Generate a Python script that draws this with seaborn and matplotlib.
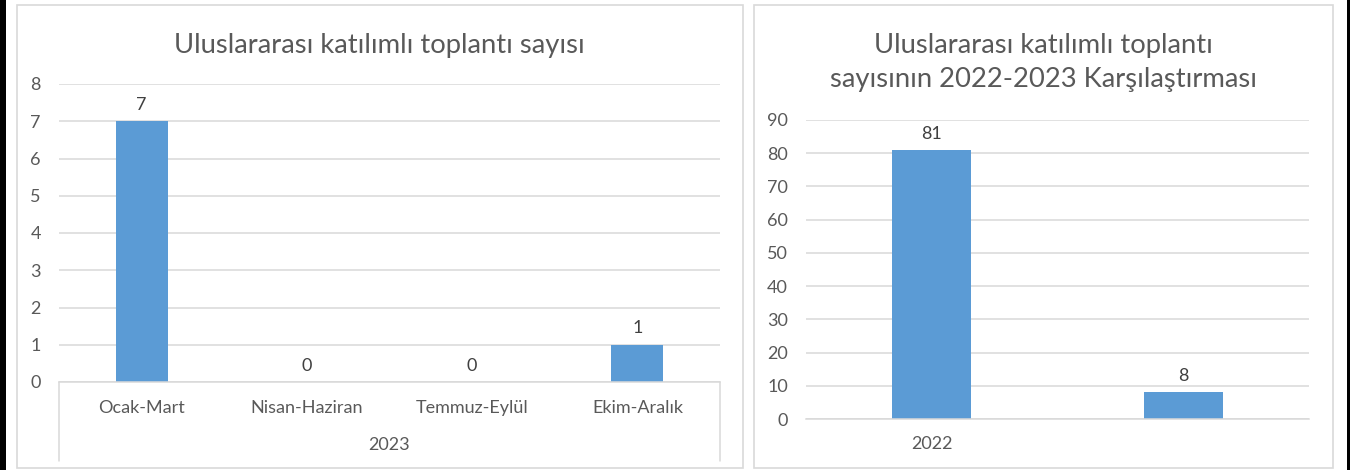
import matplotlib
matplotlib.use("Agg")
import matplotlib.pyplot as plt
import matplotlib.transforms as mtransforms
from matplotlib.patches import Rectangle
from matplotlib.lines import Line2D
import seaborn as sns
import pandas as pd

# ---- data ----
left_title = "Uluslararası katılımlı toplantı sayısı"
left_categories = ["Ocak-Mart", "Nisan-Haziran", "Temmuz-Eylül", "Ekim-Aralık"]
left_values = [7, 0, 0, 1]
left_group = "2023"
left_yticks = [0, 1, 2, 3, 4, 5, 6, 7, 8]

right_title = "Uluslararası katılımlı toplantı\nsayısının 2022-2023 Karşılaştırması"
right_categories = ["2022", ""]
right_values = [81, 8]
right_yticks = [0, 10, 20, 30, 40, 50, 60, 70, 80, 90]

BAR = "#5B9BD5"
GRID = "#D9D9D9"
TXT = "#595959"
LBL = "#404040"

sns.set_theme(style="white")
plt.rcParams["font.family"] = ["Lato", "DejaVu Sans"]

W, H = 1350, 470
fig = plt.figure(figsize=(W / 100, H / 100), dpi=100)
fig.patch.set_facecolor("white")

def fx(px):
    return px / W

def fy(py):
    return 1 - py / H

# black side strips
fig.add_artist(Rectangle((0, 0), fx(6), 1, transform=fig.transFigure,
                         facecolor="black", edgecolor="none"))
fig.add_artist(Rectangle((fx(1347), 0), 1 - fx(1347), 1, transform=fig.transFigure,
                         facecolor="black", edgecolor="none"))
# panel borders
for x0, x1 in [(17, 743), (754, 1333)]:
    fig.add_artist(Rectangle((fx(x0), fy(468)), fx(x1 - x0), (468 - 5) / H,
                             transform=fig.transFigure, facecolor="none",
                             edgecolor=GRID, linewidth=1.2))


def style_axes(ax, yticks):
    ax.set_ylim(yticks[0], yticks[-1])
    ax.set_yticks(yticks)
    ax.grid(axis="y", color=GRID, linewidth=1.1)
    ax.set_axisbelow(True)
    for s in ["left", "right", "top"]:
        ax.spines[s].set_visible(False)
    ax.spines["bottom"].set_color(GRID)
    ax.spines["bottom"].set_linewidth(1.1)
    ax.tick_params(axis="y", length=0, pad=13, labelsize=13, labelcolor=TXT)
    ax.tick_params(axis="x", length=0, labelsize=13, labelcolor=TXT)
    ax.set_xlabel("")
    ax.set_ylabel("")


# ---- left chart ----
axL = fig.add_axes([fx(59), fy(382), fx(720 - 59), (382 - 84) / H])
dfL = pd.DataFrame({"cat": left_categories, "val": left_values})
sns.barplot(data=dfL, x="cat", y="val", ax=axL, color=BAR, width=0.315,
            saturation=1, edgecolor="none")
axL.set_xlim(-0.5, len(left_categories) - 0.5)
style_axes(axL, left_yticks)
axL.tick_params(axis="x", pad=13)
for c in axL.containers:
    axL.bar_label(c, labels=[str(v) for v in left_values], padding=6,
                  fontsize=13, color=LBL)
# multi-level category axis lines
trL = mtransforms.blended_transform_factory(axL.transData, fig.transFigure)
for xe in [-0.5, len(left_categories) - 0.5]:
    fig.add_artist(Line2D([xe, xe], [fy(382), fy(461)], transform=trL,
                          color=GRID, linewidth=1.1))
axL.text((len(left_categories) - 1) / 2, fy(445), left_group, transform=trL,
         ha="center", va="center", fontsize=13, color=TXT)
fig.text(fx(379), fy(45), left_title, ha="center", va="center",
         fontsize=19.7, color=TXT)

# ---- right chart ----
axR = fig.add_axes([fx(806), fy(419), fx(1309 - 806), (419 - 120) / H])
dfR = pd.DataFrame({"cat": right_categories, "val": right_values})
sns.barplot(data=dfR, x="cat", y="val", ax=axR, color=BAR, width=0.314,
            saturation=1, edgecolor="none")
axR.set_xlim(-0.5, len(right_categories) - 0.5)
style_axes(axR, right_yticks)
axR.tick_params(axis="x", pad=12)
for c in axR.containers:
    axR.bar_label(c, labels=[str(v) for v in right_values], padding=6,
                  fontsize=13, color=LBL)
fig.text(fx(1043.5), fy(62), right_title, ha="center", va="center",
         fontsize=19.7, color=TXT, linespacing=1.45)

fig.savefig("out.png", dpi=100, facecolor="white")
